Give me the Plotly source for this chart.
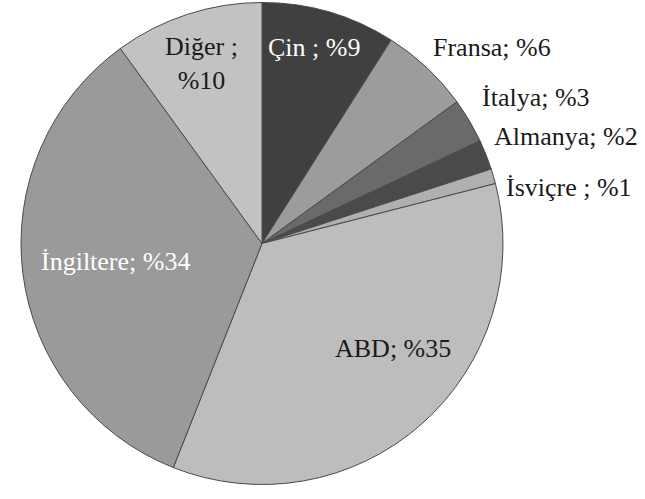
import plotly.graph_objects as go

countries = ["Çin", "Fransa", "İtalya", "Almanya", "İsviçre", "ABD", "İngiltere", "Diğer"]
shares = [9, 6, 3, 2, 1, 35, 34, 10]
label_texts = ["Çin ; %9", "Fransa; %6", "İtalya; %3", "Almanya; %2", "İsviçre ; %1",
               "ABD; %35", "İngiltere; %34", "Diğer ;<br>%10"]
colors = ["#404040", "#9c9c9c", "#6a6a6a", "#4a4a4a", "#b0b0b0", "#bdbdbd", "#9a9a9a", "#c2c2c2"]
label_colors = ["white", "#1a1a1a", "#1a1a1a", "#1a1a1a", "#1a1a1a", "#1a1a1a", "white", "#1a1a1a"]
# label anchor positions (pixels in the reference picture)
label_x = [314, 492, 536, 566, 569, 393, 115, 201]
label_y = [48, 48, 98, 136, 187, 348, 261, 63]

W, H = 645, 499
fig = go.Figure(go.Pie(
    labels=countries, values=shares, sort=False, direction="clockwise", rotation=0,
    marker=dict(colors=colors, line=dict(color="#4a4a4a", width=1)),
    textinfo="none", hoverinfo="label+percent",
    domain=dict(x=[(262 - 241) / W, (262 + 241) / W], y=[1 - 485 / H, 1 - 2 / H]),
    showlegend=False,
))
for t, c, x, y in zip(label_texts, label_colors, label_x, label_y):
    fig.add_annotation(text=t, x=x / W, y=1 - y / H, xref="paper", yref="paper",
                       showarrow=False, font=dict(family="Liberation Serif", size=26, color=c),
                       xanchor="center", yanchor="middle")
fig.update_layout(width=W, height=H, margin=dict(l=0, r=0, t=0, b=0),
                  paper_bgcolor="white", plot_bgcolor="white")
fig.write_html("out.html")
